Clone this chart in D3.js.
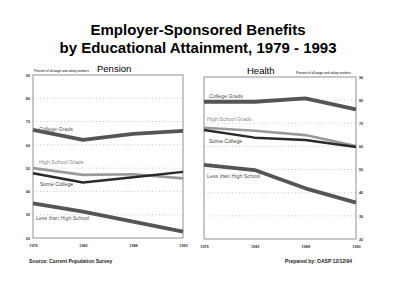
<!DOCTYPE html>
<html><head><meta charset="utf-8">
<script src="https://cdn.jsdelivr.net/npm/d3@7"></script>
<style>body{margin:0;background:#fff}svg{display:block}</style>
</head><body>
<svg id="c" width="400" height="304"></svg>
<script>
const years = ["1979","1983","1988","1993"];
const yTicks = [20,30,40,50,60,70,80,90];
const seriesNames = ["College Grads","High School Grads","Some College","Less than High School"];
// Pension
const pensionCollege = [66.4,62.1,64.7,66.0];
const pensionHS = [50.0,47.1,47.4,45.6];
const pensionSome = [47.8,43.8,46.1,48.4];
const pensionLess = [34.9,31.3,27.0,22.7];
// Health
const healthCollege = [79.3,79.3,80.8,76.0];
const healthHS = [68.1,66.8,64.9,60.2];
const healthSome = [67.1,63.8,62.8,59.8];
const healthLess = [52.0,49.8,41.9,35.7];

const svg = d3.select("#c");
const font = "Liberation Sans, Arial, sans-serif";

svg.append("text").attr("x",198).attr("y",35).attr("text-anchor","middle")
  .attr("font-family",font).attr("font-weight","bold").attr("font-size",15)
  .text("Employer-Sponsored Benefits");
svg.append("text").attr("x",198).attr("y",53).attr("text-anchor","middle")
  .attr("font-family",font).attr("font-weight","bold").attr("font-size",15)
  .text("by Educational Attainment, 1979 - 1993");

const styles = [
  {color:"#555", width:3.8, label:"#555"},
  {color:"#999", width:2.6, label:"#888"},
  {color:"#2a2a2a", width:2.5, label:"#444"},
  {color:"#555", width:3.8, label:"#555"}
];

function panel(opt){
  const g = svg.append("g");
  const x = d3.scalePoint().domain(years).range([opt.x0,opt.x1]);
  const y = d3.scaleLinear().domain([20,90]).range([opt.yb,opt.yt]);
  g.selectAll("line.grid").data(yTicks.filter(v=>v>20&&v<90)).join("line")
    .attr("x1",opt.x0).attr("x2",opt.x1).attr("y1",d=>y(d)).attr("y2",d=>y(d))
    .attr("stroke","#b0b0b0").attr("stroke-width",0.7).attr("stroke-dasharray","1,2.5");
  g.append("rect").attr("x",opt.x0).attr("y",opt.yt).attr("width",opt.x1-opt.x0).attr("height",opt.yb-opt.yt)
    .attr("fill","none").attr("stroke","#777").attr("stroke-width",0.8);
  const ya = opt.right ? d3.axisRight(y) : d3.axisLeft(y);
  const yg = g.append("g").attr("transform",`translate(${opt.right?opt.x1:opt.x0},0)`)
    .call(ya.tickValues(yTicks).tickSize(0).tickPadding(3));
  yg.select(".domain").remove();
  yg.selectAll("text").attr("font-family",font).attr("font-size",3.8).attr("font-weight","bold").attr("fill","#333");
  const xg = g.append("g").attr("transform",`translate(0,${opt.yb})`)
    .call(d3.axisBottom(x).tickSize(0).tickPadding(6));
  xg.select(".domain").remove();
  xg.selectAll("text").attr("font-family",font).attr("font-size",3.8).attr("font-weight","bold").attr("fill","#333");
  const line = d3.line().x((d,i)=>x(years[i])).y(d=>y(d));
  opt.data.forEach((s,i)=>{
    g.append("path").datum(s).attr("d",line).attr("fill","none")
      .attr("stroke",styles[i].color).attr("stroke-width",styles[i].width)
      .attr("stroke-linejoin","round");
  });
  opt.labels.forEach((p,i)=>{
    g.append("text").attr("x",p[0]).attr("y",p[1]).attr("font-family",font)
      .attr("font-size",5.3).attr("fill",styles[i].label).text(seriesNames[i]);
  });
  g.append("text").attr("x",opt.titleX).attr("y",opt.yt-3).attr("font-family",font)
    .attr("font-size",9.5).text(opt.title);
  g.append("text").attr("x",opt.subX).attr("y",opt.yt-3).attr("font-family",font)
    .attr("font-size",3.2).text("Percent of all wage and salary workers");
}

panel({x0:33,x1:183,yt:75,yb:238,right:false,title:"Pension",titleX:97,subX:34,
  data:[pensionCollege,pensionHS,pensionSome,pensionLess],
  labels:[[39,131],[39,164],[40,186],[36,220]]});
panel({x0:204,x1:356,yt:77,yb:239,right:true,title:"Health",titleX:247,subX:296,
  data:[healthCollege,healthHS,healthSome,healthLess],
  labels:[[209,98],[207,121],[209,143],[207,178]]});

svg.append("text").attr("x",29).attr("y",263).attr("font-family",font).attr("font-size",5)
  .attr("font-weight","bold").attr("fill","#222").text("Source:  Current Population Survey");
svg.append("text").attr("x",352).attr("y",263).attr("text-anchor","end").attr("font-family",font).attr("font-size",5)
  .attr("font-weight","bold").attr("fill","#222").text("Prepared by: OASP 12/12/94");
</script>
</body></html>
